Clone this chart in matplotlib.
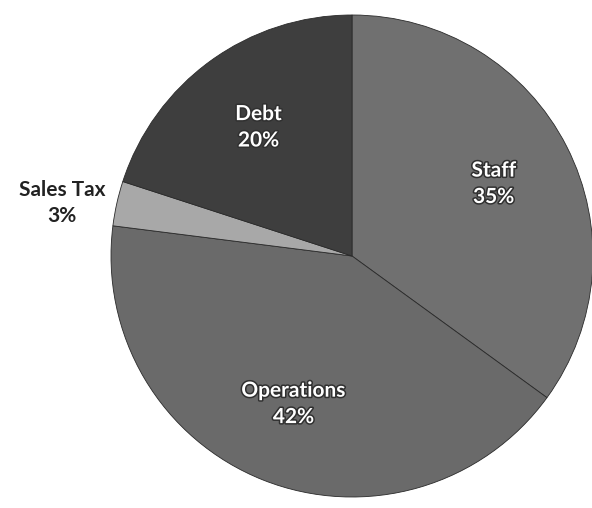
import matplotlib.pyplot as plt
import matplotlib.patheffects as pe

categories = ["Staff", "Operations", "Sales Tax", "Debt"]
shares = [35, 42, 3, 20]
colors = ["#707070", "#6a6a6a", "#a8a8a8", "#3e3e3e"]

plt.rcParams['font.family'] = ['Lato', 'DejaVu Sans']

fig = plt.figure(figsize=(5.92, 5.08), dpi=100)
ax = fig.add_axes([0, 0, 1, 1])

labels = [f"{c}\n{s}%" for c, s in zip(categories, shares)]
wedges, texts = ax.pie(shares, labels=labels, colors=colors, startangle=90,
                       counterclock=False, center=(352, 252), radius=241,
                       labeldistance=0.66,
                       wedgeprops=dict(edgecolor="#2a2a2a", linewidth=0.6),
                       textprops=dict(fontsize=15, fontweight='bold',
                                      color='white', ha='center', va='center',
                                      linespacing=1.4))

for t in texts:
    t.set_horizontalalignment('center')
    t.set_path_effects([pe.withStroke(linewidth=2.2, foreground='#303030')])

# sales tax label sits outside the pie in black
st = texts[2]
st.set_position((62, 508 - 203))
st.set_color('#222222')
st.set_path_effects([])

ax.set_xlim(0, 592)
ax.set_ylim(0, 508)
ax.set_aspect('equal')
ax.axis('off')

fig.savefig("out.png", dpi=100, facecolor='white')
